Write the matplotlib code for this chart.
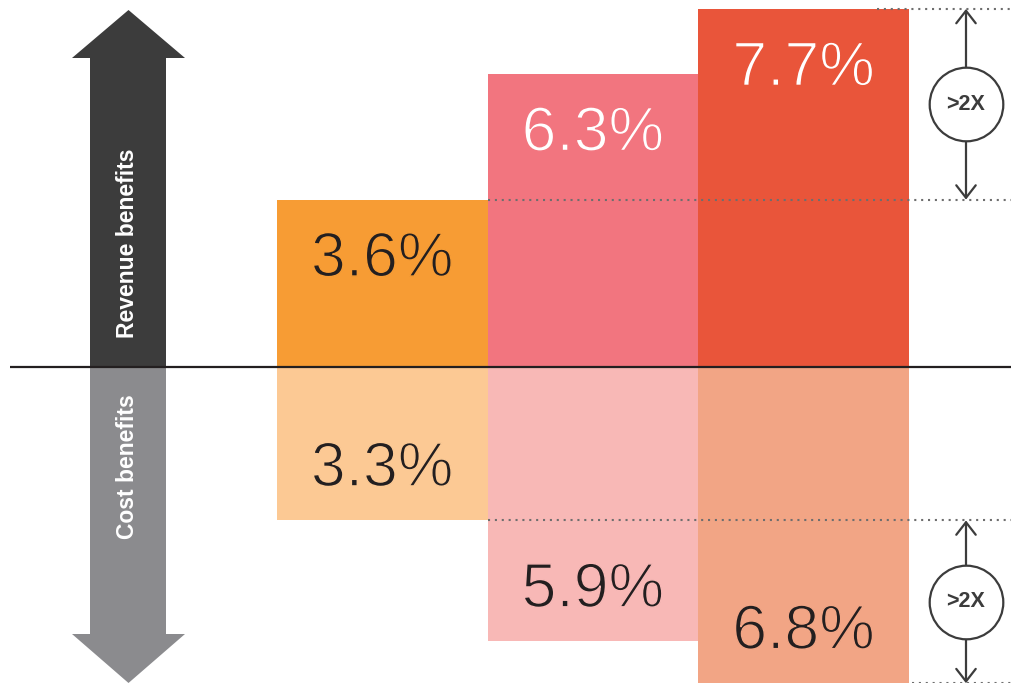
import numpy as np
import matplotlib.pyplot as plt
import matplotlib.patheffects as pe
from matplotlib.patches import Polygon

# data
groups = ['A', 'B', 'C']
revenue = [3.6, 6.3, 7.7]
cost = [3.3, 5.9, 6.8]
rev_colors = ['#F79C34', '#F2757F', '#E9553A']
cost_colors = ['#FCC994', '#F8B8B6', '#F2A585']
rev_text = ['#231F20', 'white', 'white']
cost_text = ['#231F20', '#231F20', '#231F20']

W, H = 1011, 683
fig = plt.figure(figsize=(W / 100, H / 100), dpi=100)

# pixel overlay for the decorative side arrows
deco = fig.add_axes([0, 0, 1, 1])
deco.set_xlim(0, W)
deco.set_ylim(H, 0)
deco.axis('off')

deco.add_patch(Polygon([(90, 367), (90, 58), (72, 58), (128.5, 10), (185, 58), (166, 58), (166, 367)],
                       closed=True, fc='#3C3C3C', ec='none'))
deco.add_patch(Polygon([(90, 367), (90, 634), (72, 634), (128.5, 683), (185, 634), (166, 634), (166, 367)],
                       closed=True, fc='#8B8B8E', ec='none'))
deco.text(127, 243, 'Revenue benefits', rotation=90, color='white', fontsize=16.5,
          fontweight='bold', family='Liberation Sans', ha='center', va='center')
deco.text(127, 467, 'Cost benefits', rotation=90, color='white', fontsize=16.5,
          fontweight='bold', family='Liberation Sans', ha='center', va='center')

# main data axes
ax = fig.add_axes([0, 0, 1, 1])
ax.patch.set_alpha(0)
ax.axis('off')
ppu = 46.5
ax.set_ylim(-(H - 367) / ppu, 367 / ppu)
unit = 210.67
ax.set_xlim(-0.5 - 277 / unit, -0.5 + (W - 277) / unit)

x = np.arange(len(groups))
ax.bar(x, revenue, width=1.0, color=rev_colors, linewidth=0, zorder=2)
ax.bar(x, [-c for c in cost], width=1.0, color=cost_colors, linewidth=0, zorder=1)

# thin the glyphs a little by stroking the outline in the bar colour
numfont = dict(family='Liberation Sans', fontsize=45, ha='center', va='center')
for i in range(len(groups)):
    ax.annotate(f'{revenue[i]}%', (x[i], revenue[i]), xytext=(0, -60),
                textcoords='offset pixels', color=rev_text[i], zorder=5,
                path_effects=[pe.Normal(), pe.Stroke(linewidth=1.1, foreground=rev_colors[i])],
                **numfont)
    ax.annotate(f'{cost[i]}%', (x[i], -cost[i]), xytext=(0, 51),
                textcoords='offset pixels', color=cost_text[i], zorder=5,
                path_effects=[pe.Normal(), pe.Stroke(linewidth=1.1, foreground=cost_colors[i])],
                **numfont)

# baseline
ax.hlines(0, -0.5 - 267 / unit, 3.2, color='#231F20', lw=1.6, zorder=6)

# dotted reference levels
dot = dict(color='#6E6E6E', lw=1.5, linestyles=(0, (1, 2.3)), zorder=4)
xr = ax.get_xlim()[1]
ax.hlines(revenue[2], -0.5 + (877 - 277) / unit, xr, **dot)
ax.hlines(revenue[0], 0.5, xr, **dot)
ax.hlines(-cost[0], 0.5, xr, **dot)
ax.hlines(-cost[2], -0.5 + (912 - 277) / unit, xr, **dot)

# >2X brackets
xc = -0.5 + (966 - 277) / unit
for top, bot in [(revenue[2], revenue[0]), (-cost[0], -cost[2])]:
    ax.annotate('', xy=(xc, top), xytext=(xc, bot),
                arrowprops=dict(arrowstyle='<->,head_length=0.45,head_width=0.35',
                                mutation_scale=20, color='#3C3C3C', lw=1.6,
                                shrinkA=0, shrinkB=0), zorder=6)
    mid = (top + bot) / 2
    ax.plot([xc], [mid], 'o', ms=53, mfc='white', mec='#3C3C3C', mew=1.6, zorder=7)
    ax.text(xc, mid, '>2X', ha='center', va='center', fontsize=15.5, fontweight='bold',
            color='#3C3C3C', family='Liberation Sans', zorder=8)

fig.savefig('out.png', dpi=100)
